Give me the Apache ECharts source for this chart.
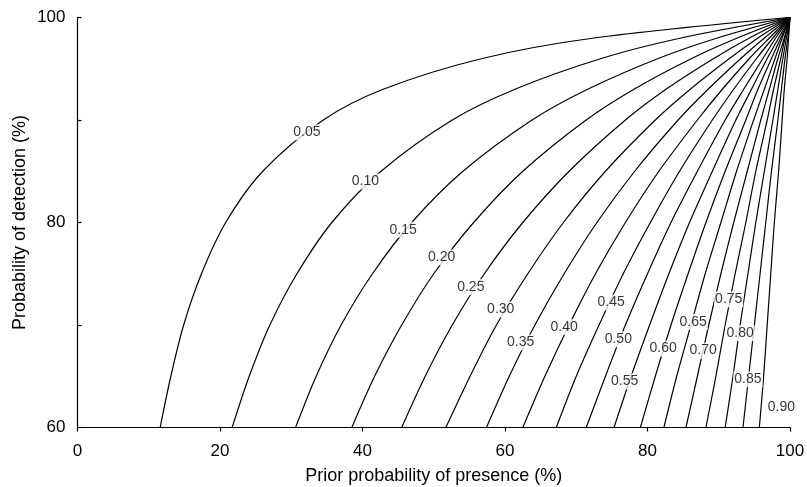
<!DOCTYPE html>
<html>
<head>
<meta charset="utf-8">
<script src="https://cdn.jsdelivr.net/npm/echarts@6/dist/echarts.min.js"></script>
<style>
html,body{margin:0;padding:0;background:#fff;}
#chart{width:807px;height:487px;}
</style>
</head>
<body>
<div id="chart"></div>
<script>
// Detection probability levels (%) at which each contour's prior (%) was read
const detection = [60, 65, 70, 75, 80, 85, 90, 93, 96, 98, 100];

// Prior probability of presence (%) along each contour, at the detection levels above
const c005 = [11.6, 13.1, 14.9, 17.4, 20.8, 26.0, 34.5, 42.9, 56.8, 72.5, 100];
const c010 = [21.7, 24.1, 27.0, 30.8, 35.7, 42.6, 52.6, 61.4, 73.5, 84.7, 100];
const c015 = [30.6, 33.5, 37.0, 41.4, 46.9, 54.1, 63.8, 71.6, 81.5, 89.8, 100];
const c020 = [38.5, 41.7, 45.5, 50.0, 55.6, 62.5, 71.4, 78.1, 86.2, 92.6, 100];
const c025 = [45.5, 48.8, 52.6, 57.1, 62.5, 69.0, 76.9, 82.6, 89.3, 94.3, 100];
const c030 = [51.7, 55.1, 58.8, 63.2, 68.2, 74.1, 81.1, 86.0, 91.5, 95.5, 100];
const c035 = [57.4, 60.6, 64.2, 68.3, 72.9, 78.2, 84.3, 88.5, 93.1, 96.4, 100];
const c040 = [62.5, 65.6, 69.0, 72.7, 76.9, 81.6, 87.0, 90.5, 94.3, 97.1, 100];
const c045 = [67.2, 70.0, 73.2, 76.6, 80.4, 84.5, 89.1, 92.1, 95.3, 97.6, 100];
const c050 = [71.4, 74.1, 76.9, 80.0, 83.3, 87.0, 90.9, 93.5, 96.2, 98.0, 100];
const c055 = [75.3, 77.7, 80.3, 83.0, 85.9, 89.1, 92.4, 94.6, 96.8, 98.4, 100];
const c060 = [79.0, 81.1, 83.3, 85.7, 88.2, 90.9, 93.8, 95.5, 97.4, 98.7, 100];
const c065 = [82.3, 84.1, 86.1, 88.1, 90.3, 92.5, 94.9, 96.4, 97.9, 98.9, 100];
const c070 = [85.4, 87.0, 88.6, 90.3, 92.1, 94.0, 95.9, 97.1, 98.3, 99.2, 100];
const c075 = [88.2, 89.6, 90.9, 92.3, 93.8, 95.2, 96.8, 97.7, 98.7, 99.3, 100];
const c080 = [90.9, 92.0, 93.0, 94.1, 95.2, 96.4, 97.6, 98.3, 99.0, 99.5, 100];
const c085 = [93.4, 94.2, 95.0, 95.8, 96.6, 97.4, 98.3, 98.8, 99.3, 99.7, 100];
const c090 = [95.7, 96.3, 96.8, 97.3, 97.8, 98.4, 98.9, 99.2, 99.6, 99.8, 100];

const contourLevels = ['0.05','0.10','0.15','0.20','0.25','0.30','0.35','0.40','0.45',
                       '0.50','0.55','0.60','0.65','0.70','0.75','0.80','0.85','0.90'];
const contours = [c005, c010, c015, c020, c025, c030, c035, c040, c045,
                  c050, c055, c060, c065, c070, c075, c080, c085, c090];

// Where each contour's label sits (prior %, detection %)
const labelPrior     = [32.2, 40.4, 45.7, 51.1, 55.2, 59.4, 62.2, 68.3, 74.9, 75.9, 76.8, 82.2, 86.4, 87.8, 91.4, 93.0, 94.1, 98.8];
const labelDetection = [88.8, 84.0, 79.3, 76.6, 73.7, 71.5, 68.3, 69.8, 72.2, 68.6, 64.5, 67.7, 70.3, 67.5, 72.5, 69.2, 64.7, 62.0];

// Axis tick labels
const xTickLabels = ['0', '20', '40', '60', '80', '100'];
const yTickLabels = {60: '60', 80: '80', 100: '100'};

const FONT = "'Liberation Sans', Arial, Helvetica, sans-serif";

const series = contours.map((arr, k) => ({
  name: contourLevels[k],
  type: 'line',
  data: detection.map((d, i) => [arr[i], d]),
  showSymbol: false,
  symbol: 'none',
  smooth: 0.3,
  lineStyle: { color: '#000', width: 1.2 },
  silent: true,
  z: 2
}));

series.push({
  type: 'scatter',
  data: contourLevels.map((t, k) => [labelPrior[k], labelDetection[k], t]),
  symbolSize: 0,
  silent: true,
  z: 5,
  label: {
    show: true,
    position: 'inside',
    formatter: p => p.value[2],
    color: '#000',
    fontFamily: FONT,
    fontSize: 14,
    backgroundColor: '#fff',
    padding: [1, 1, 1, 1]
  }
});

const chart = echarts.init(document.getElementById('chart'), null, { renderer: 'canvas' });
chart.setOption({
  animation: false,
  backgroundColor: '#fff',
  grid: { left: 77.5, right: 17, top: 17.5, bottom: 59.5, containLabel: false, outerBoundsMode: 'none' },
  xAxis: {
    type: 'value',
    min: 0, max: 100, interval: 20,
    name: 'Prior probability of presence (%)',
    nameLocation: 'middle',
    nameGap: 40,
    nameTextStyle: { fontFamily: FONT, fontSize: 18, color: '#000' },
    axisLine: { show: true, lineStyle: { color: '#000', width: 1.2 } },
    axisTick: { show: true, inside: false, length: 4, lineStyle: { color: '#000', width: 1.2 } },
    axisLabel: {
      margin: 15,
      fontFamily: FONT, fontSize: 17, color: '#000',
      formatter: (v) => xTickLabels[Math.round(v / 20)]
    },
    splitLine: { show: false }
  },
  yAxis: {
    type: 'value',
    min: 60, max: 100, interval: 10,
    name: 'Probability of detection (%)',
    nameLocation: 'middle',
    nameGap: 48,
    nameRotate: 90,
    nameMoveOverlap: false,
    nameTextStyle: { fontFamily: FONT, fontSize: 18, color: '#000' },
    axisLine: { show: true, lineStyle: { color: '#000', width: 1.2 } },
    axisTick: { show: true, inside: true, length: 4, lineStyle: { color: '#000', width: 1.2 } },
    axisLabel: {
      margin: 12,
      fontFamily: FONT, fontSize: 17, color: '#000',
      formatter: (v) => yTickLabels[v] || ''
    },
    splitLine: { show: false }
  },
  series: series
});
</script>
</body>
</html>
